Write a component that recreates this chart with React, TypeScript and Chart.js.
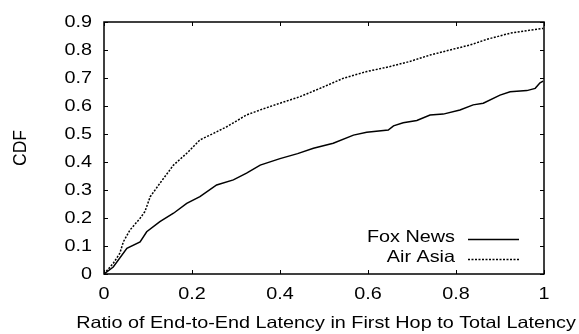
import React, { useEffect, useRef } from "react";
import { Chart, registerables } from "chart.js";

Chart.register(...registerables);

// CDF samples: ratio of end-to-end latency in first hop to total latency
const foxX = [0, 0.021, 0.052, 0.082, 0.097, 0.127, 0.158, 0.188, 0.218, 0.256, 0.294, 0.324, 0.355, 0.4, 0.44, 0.476, 0.521, 0.567, 0.597, 0.646, 0.658, 0.68, 0.711, 0.741, 0.771, 0.809, 0.839, 0.862, 0.9, 0.923, 0.961, 0.98, 0.991, 0.998];
const foxY = [0, 0.025, 0.092, 0.115, 0.151, 0.187, 0.217, 0.252, 0.276, 0.318, 0.336, 0.36, 0.389, 0.412, 0.43, 0.449, 0.467, 0.496, 0.506, 0.514, 0.529, 0.54, 0.548, 0.568, 0.571, 0.586, 0.604, 0.61, 0.639, 0.651, 0.655, 0.663, 0.683, 0.689];

const airX = [0, 0.021, 0.036, 0.044, 0.059, 0.082, 0.093, 0.105, 0.127, 0.158, 0.188, 0.218, 0.25, 0.279, 0.324, 0.355, 0.4, 0.445, 0.491, 0.544, 0.597, 0.65, 0.695, 0.741, 0.786, 0.832, 0.87, 0.923, 0.968, 0.998];
const airY = [0, 0.038, 0.074, 0.115, 0.157, 0.199, 0.223, 0.276, 0.324, 0.389, 0.431, 0.479, 0.503, 0.526, 0.568, 0.586, 0.61, 0.633, 0.663, 0.699, 0.723, 0.741, 0.759, 0.782, 0.8, 0.818, 0.838, 0.86, 0.871, 0.877];

const seriesNames = ["Fox News", "Air Asia"];
const xTickLabels = ["0", "0.2", "0.4", "0.6", "0.8", "1"];
const yTickLabels = ["0", "0.1", "0.2", "0.3", "0.4", "0.5", "0.6", "0.7", "0.8", "0.9"];
const xTitle = "Ratio of End-to-End Latency in First Hop to Total Latency";
const yTitle = "CDF";

const FONT = "'Liberation Sans', Arial, Helvetica, sans-serif";
const FONT_SIZE = 16.5;
const STRETCH = 1.2; // labels are set a little wider than the plain face

const toPoints = (xs: number[], ys: number[]) => xs.map((x, i) => ({ x, y: ys[i] }));

function wideText(ctx: CanvasRenderingContext2D, text: string, x: number, y: number, align: CanvasTextAlign) {
  ctx.save();
  ctx.translate(x, y);
  ctx.scale(STRETCH, 1);
  ctx.textAlign = align;
  ctx.textBaseline = "middle";
  ctx.fillText(text, 0, 0);
  ctx.restore();
}

// Frame with inward ticks on all sides, tick labels, axis titles and the in-plot key
const framePlugin = {
  id: "frame",
  afterDraw(chart: any) {
    const { ctx, chartArea: a, scales } = chart;
    const tl = 4;
    ctx.save();
    ctx.strokeStyle = "#000";
    ctx.fillStyle = "#000";
    ctx.lineWidth = 1.5;
    ctx.strokeRect(a.left, a.top, a.right - a.left, a.bottom - a.top);
    ctx.lineWidth = 1;
    ctx.beginPath();
    scales.x.ticks.forEach((t: any) => {
      const px = Math.round(scales.x.getPixelForValue(t.value)) + 0.5;
      ctx.moveTo(px, a.bottom);
      ctx.lineTo(px, a.bottom - tl);
      ctx.moveTo(px, a.top);
      ctx.lineTo(px, a.top + tl);
    });
    scales.y.ticks.forEach((t: any) => {
      const py = Math.round(scales.y.getPixelForValue(t.value)) + 0.5;
      ctx.moveTo(a.left, py);
      ctx.lineTo(a.left + tl, py);
      ctx.moveTo(a.right, py);
      ctx.lineTo(a.right - tl, py);
    });
    ctx.stroke();

    ctx.font = `${FONT_SIZE}px ${FONT}`;
    scales.x.ticks.forEach((t: any, i: number) => {
      wideText(ctx, xTickLabels[i] ?? String(t.value), scales.x.getPixelForValue(t.value), a.bottom + 20, "center");
    });
    scales.y.ticks.forEach((t: any, i: number) => {
      wideText(ctx, yTickLabels[i] ?? String(t.value), a.left - 12, scales.y.getPixelForValue(t.value), "right");
    });
    wideText(ctx, xTitle, (a.left + a.right) / 2 + 2, a.bottom + 49, "center");

    ctx.save();
    ctx.translate(21.5, (a.top + a.bottom) / 2);
    ctx.rotate(-Math.PI / 2);
    ctx.font = `17.5px ${FONT}`;
    ctx.textAlign = "center";
    ctx.textBaseline = "middle";
    ctx.fillText(yTitle, 0, 0);
    ctx.restore();

    // key
    const textRight = a.right - 89;
    const lineL = a.right - 76;
    const lineR = a.right - 25;
    chart.data.datasets.forEach((ds: any, i: number) => {
      const y = a.bottom - 35 + i * 20;
      wideText(ctx, ds.label, textRight, y - 1.5, "right");
      ctx.beginPath();
      ctx.lineWidth = ds.borderWidth;
      ctx.setLineDash(ds.borderDash || []);
      ctx.moveTo(lineL, y + 0.5);
      ctx.lineTo(lineR, y + 0.5);
      ctx.stroke();
    });
    ctx.restore();
  },
};

export default function App() {
  const ref = useRef<HTMLCanvasElement | null>(null);

  useEffect(() => {
    if (!ref.current) return;
    const chart = new Chart(ref.current, {
      type: "line",
      data: {
        datasets: [
          {
            label: seriesNames[0],
            data: toPoints(foxX, foxY),
            borderColor: "#000",
            borderWidth: 1.5,
            pointRadius: 0,
            tension: 0,
            fill: false,
          },
          {
            label: seriesNames[1],
            data: toPoints(airX, airY),
            borderColor: "#000",
            borderWidth: 1.5,
            borderDash: [2, 1.5],
            pointRadius: 0,
            tension: 0,
            fill: false,
          },
        ],
      },
      options: {
        responsive: false,
        animation: false,
        layout: { padding: { top: 22, right: 35, left: 0, bottom: 0 } },
        plugins: { legend: { display: false }, tooltip: { enabled: false } },
        scales: {
          x: {
            type: "linear",
            min: 0,
            max: 1,
            ticks: { stepSize: 0.2, display: false },
            grid: { display: false, drawTicks: false },
            border: { display: false },
            afterFit: (s: any) => {
              s.height = 60;
            },
          },
          y: {
            type: "linear",
            min: 0,
            max: 0.9,
            ticks: { stepSize: 0.1, display: false },
            grid: { display: false, drawTicks: false },
            border: { display: false },
            afterFit: (s: any) => {
              s.width = 104;
            },
          },
        },
      },
      plugins: [framePlugin],
    });
    return () => chart.destroy();
  }, []);

  return (
    <div style={{ position: "absolute", left: 0, top: 0, width: 579, height: 334, background: "#fff" }}>
      <canvas ref={ref} width={579} height={334} />
    </div>
  );
}
